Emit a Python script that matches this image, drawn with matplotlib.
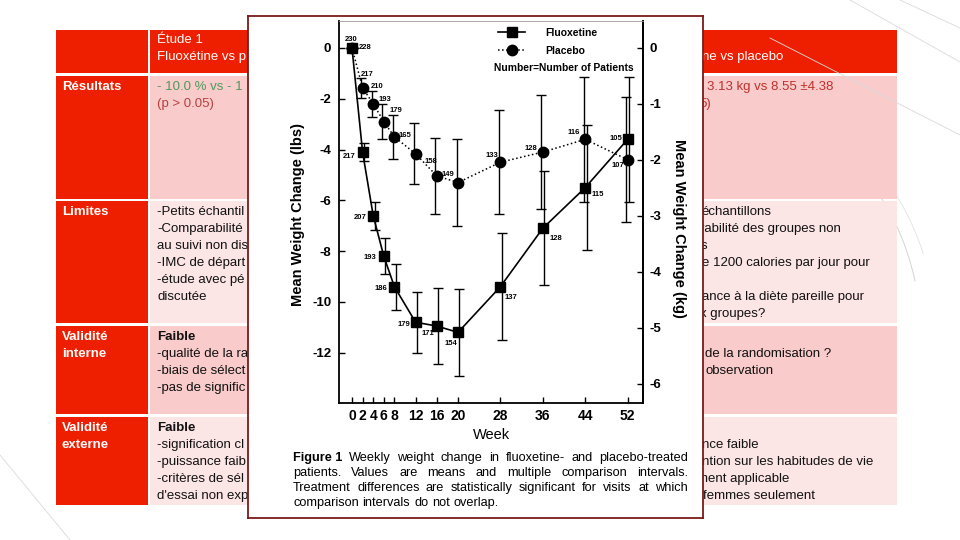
import matplotlib
matplotlib.use('Agg')
import matplotlib.pyplot as plt
from matplotlib.lines import Line2D
from matplotlib.patches import Rectangle, Arc

plt.rcParams['font.family'] = ['Liberation Sans', 'DejaVu Sans']
plt.rcParams['axes.unicode_minus'] = False

# ---- data (lbs) ----
weeks = [0, 2, 4, 6, 8, 12, 16, 20, 28, 36, 44, 52]
fluox_mean = [0, -4.1, -6.6, -8.2, -9.4, -10.8, -10.95, -11.2, -9.4, -7.1, -5.5, -3.6]
fluox_ci = [0, 0.35, 0.55, 0.7, 0.9, 1.2, 1.5, 1.7, 2.1, 2.25, 2.45, 2.45]
fluox_n = [230, 217, 207, 193, 186, 179, 171, 154, 137, 128, 115, 105]
placebo_mean = [0, -1.57, -2.2, -2.9, -3.5, -4.17, -5.04, -5.3, -4.5, -4.1, -3.6, -4.4]
placebo_ci = [0, 0.4, 0.5, 0.7, 0.87, 1.2, 1.48, 1.7, 2.05, 2.25, 2.45, 2.45]
placebo_n = [228, 217, 210, 193, 179, 165, 158, 149, 133, 128, 116, 107]
lbs_ticks = [0, -2, -4, -6, -8, -10, -12]
kg_ticks = [0, -1, -2, -3, -4, -5, -6]
LBS_PER_KG = 2.2046

# ---- table text (only what is visible around the pasted figure) ----
row_labels = ['Résultats', 'Limites', 'Validité\ninterne', 'Validité\nexterne']
header_left = ['Étude 1', 'Fluoxétine vs p']
left_rows = [
    ['- 10.0 % vs - 1', '(p > 0.05)'],
    ['-Petits échantil', '-Comparabilité', 'au suivi non dis', '-IMC de départ',
     '-étude avec pé', 'discutée'],
    ['Faible', '-qualité de la ra', '-biais de sélect', '-pas de signific'],
    ['Faible', '-signification cl', '-puissance faib', '-critères de sél', "d'essai non exp"],
]
header_right = ['', 'ne vs placebo']
right_rows = [
    ['3.13 kg vs 8.55 ±4.38', '5)'],
    ['échantillons', 'rabilité des groupes non', 's', 'e 1200 calories par jour pour', '',
     'ance à la diète pareille pour', 'x groupes?'],
    ['', 'de la randomisation ?', 'observation'],
    ['', 'nce faible', 'ntion sur les habitudes de vie', 'ment applicable', 'femmes seulement'],
]
caption = [
    'Weekly weight change in fluoxetine- and placebo-treated',
    'patients. Values are means and multiple comparison intervals.',
    'Treatment differences are statistically significant for visits at which',
    'comparison intervals do not overlap.',
]

# ---- layout / style ----
RED = '#EE1F00'
PINK_D = '#F9CBCB'
PINK_L = '#FCE5E5'
rows_y = [(30, 73), (76, 199), (201, 323), (326, 414), (417, 505)]
row_fill = [PINK_D, PINK_L, PINK_D, PINK_L]
LEFT_X, C1_X, C2_X, RIGHT_X = 56, 150, 651, 897
STEP = 17
FS = 9.5
right_x = [[707, 699], [701, 700, 701, 702, 702, 702, 700], [705, 705, 705],
           [702, 702, 702, 697, 703]]

fig = plt.figure(figsize=(9.6, 5.4), dpi=100)

bg = fig.add_axes([0, 0, 1, 1])
bg.set_xlim(0, 960)
bg.set_ylim(540, 0)
bg.axis('off')
bg.set_zorder(0)

# faint decorative strokes of the slide template
for (xa, ya, xb, yb) in [(770, 38, 960, 135), (850, 0, 960, 62), (900, 0, 960, 28), (0, 455, 70, 540)]:
    bg.plot([xa, xb], [ya, yb], color='#d9d9d9', lw=0.6)
bg.add_patch(Arc((640, 330), 560, 520, theta1=-65, theta2=-10, color='#d4d4d4', lw=0.7))
bg.add_patch(Arc((640, 330), 590, 545, theta1=-60, theta2=-15, color='#e2e2e2', lw=0.6))

# table cells
for i, (y0, y1) in enumerate(rows_y):
    bg.add_patch(Rectangle((LEFT_X, y0), C1_X - 2 - LEFT_X, y1 - y0, color=RED, lw=0))
    fill = RED if i == 0 else row_fill[i - 1]
    bg.add_patch(Rectangle((C1_X, y0), C2_X - 2 - C1_X, y1 - y0, color=fill, lw=0))
    bg.add_patch(Rectangle((C2_X, y0), RIGHT_X - C2_X, y1 - y0, color=fill, lw=0))


def cell_lines(x, ytop, lines, color='#111111', bold_first=False, colors=None):
    xs = x if isinstance(x, list) else [x] * len(lines)
    for k, s in enumerate(lines):
        if not s:
            continue
        c = colors[k] if colors else color
        w = 'bold' if (bold_first and k == 0) else 'normal'
        bg.text(xs[k], ytop + 11 + k * STEP, s, fontsize=FS, color=c, fontweight=w,
                ha='left', va='center')


cell_lines(C1_X + 7, rows_y[0][0] - 1, header_left, color='white')
cell_lines([702, 702], rows_y[0][0] - 1, header_right, color='white')
for i, lab in enumerate(row_labels):
    lines = lab.split('\n')
    for k, s in enumerate(lines):
        bg.text(LEFT_X + 6, rows_y[i + 1][0] + 11 + k * STEP, s, fontsize=FS, color='white',
                fontweight='bold', ha='left', va='center')

cell_lines(C1_X + 7, rows_y[1][0], left_rows[0], colors=['#4E9A5E', '#B5423E'])
cell_lines(right_x[0], rows_y[1][0], right_rows[0], color='#C0302C')
for i in (1, 2, 3):
    cell_lines(C1_X + 7, rows_y[i + 1][0], left_rows[i], bold_first=(i >= 2))
    cell_lines(right_x[i], rows_y[i + 1][0], right_rows[i])

# ---- pasted figure frame ----
fr = fig.add_axes([248 / 960, 1 - 518 / 540, 455 / 960, 502 / 540])
fr.set_zorder(2)
fr.set_xlim(248, 703)
fr.set_ylim(518, 16)
fr.set_xticks([])
fr.set_yticks([])
for sp in fr.spines.values():
    sp.set_color('#7A1A1A')
    sp.set_linewidth(1.3)

# ---- the chart ----
ax = fig.add_axes([339 / 960, 1 - 403 / 540, 304 / 960, 382 / 540])
ax.set_zorder(3)
ax.set_xlim(-2.45, 54.9)
ax.set_ylim(-13.98, 1.06)

pl_x = [w - 0.25 for w in weeks]
fl_x = [w + 0.25 for w in weeks]
ax.errorbar(pl_x, placebo_mean, yerr=placebo_ci, fmt='none', ecolor='black', elinewidth=1,
            capsize=3.5, capthick=1, zorder=2)
ax.errorbar(fl_x, fluox_mean, yerr=fluox_ci, fmt='none', ecolor='black', elinewidth=1,
            capsize=3.5, capthick=1, zorder=2)
ax.plot(weeks, placebo_mean, color='black', ls=':', lw=1.1, marker='o', ms=7.5, zorder=3)
ax.plot(weeks, fluox_mean, color='black', ls='-', lw=1.2, marker='s', ms=6.5, zorder=4)

fl_off = [(-1, 8), (-13, -4), (-13, -2), (-14, -1), (-13, -2), (-12, -2), (-9, -7), (-7, -11),
          (11, -11), (13, -10), (13, -7), (-12, 1)]
pl_off = [(13, 0), (5, 13), (4, 17), (1, 22), (2, 26), (-11, 18), (-6, 14), (-10, 8),
          (-8, 7), (-12, 4), (-11, 7), (-10, -6)]
for w, m, n, o in zip(weeks, fluox_mean, fluox_n, fl_off):
    ax.annotate(str(n), (w, m), xytext=o, textcoords='offset pixels', fontsize=5.5,
                fontweight='bold', ha='center', va='center', zorder=5)
for w, m, n, o in zip(weeks, placebo_mean, placebo_n, pl_off):
    ax.annotate(str(n), (w, m), xytext=o, textcoords='offset pixels', fontsize=5.5,
                fontweight='bold', ha='center', va='center', zorder=5)

ax.set_xticks(weeks)
ax.set_xticklabels([str(w) for w in weeks], fontsize=10, fontweight='bold')
ax.set_yticks(lbs_ticks)
ax.set_yticklabels([str(v) for v in lbs_ticks], fontsize=9.5, fontweight='bold')
ax.tick_params(axis='both', direction='in', length=4, width=1)
ax.tick_params(axis='y', pad=5.5)
ax.tick_params(axis='x', pad=4)
for s in ('left', 'bottom', 'right'):
    ax.spines[s].set_linewidth(1.3)
ax.spines['top'].set_color('#999999')
ax.spines['top'].set_linewidth(0.6)

sec = ax.secondary_yaxis('right', functions=(lambda v: v / LBS_PER_KG, lambda v: v * LBS_PER_KG))
sec.set_yticks(kg_ticks)
sec.set_yticklabels([str(v) for v in kg_ticks], fontsize=9.5, fontweight='bold')
sec.tick_params(direction='in', length=4, width=1, pad=5)
sec.spines['right'].set_linewidth(1.3)

ax.set_ylabel('Mean Weight Change (lbs)', fontsize=10.5, fontweight='bold')
ax.yaxis.set_label_coords((298 - 339) / 304, (403 - 215) / 382)
ax.yaxis.label.set_va('center')
fr.text(679, 228, 'Mean Weight Change (kg)', fontsize=10.5, fontweight='bold', rotation=-90,
        ha='center', va='center')

fr.text(491, 435, 'Week', fontsize=10.5, ha='center', va='center')

handles = [Line2D([], [], color='black', ls='-', lw=1.2, marker='s', ms=6.5),
           Line2D([], [], color='black', ls=':', lw=1.1, marker='o', ms=7.5)]
ax.legend(handles, ['Fluoxetine', 'Placebo'], loc='upper left',
          bbox_to_anchor=((498 - 339) / 304, (403 - 28) / 382), frameon=False,
          prop={'size': 7.5, 'weight': 'bold'}, handlelength=2.6, handletextpad=1.9,
          borderaxespad=0, borderpad=0, labelspacing=0.75)
ax.text(494, 68, 'Number=Number of Patients', fontsize=7.4, fontweight='bold', ha='left',
        va='center', transform=fr.transData)

# ---- justified caption ----
renderer = fig.canvas.get_renderer()


def caption_line(tokens, y, justify=True, x0=293, x1=688, size=9.2):
    arts = [fr.text(0, y, t, fontsize=size, fontweight=wt, ha='left', va='center')
            for t, wt in tokens]
    widths = [a.get_window_extent(renderer).width for a in arts]
    if justify and len(arts) > 1:
        gap = (x1 - x0 - sum(widths)) / (len(arts) - 1)
    else:
        gap = size * 100 / 72 * 0.3
    x = x0
    for a, w in zip(arts, widths):
        a.set_x(x)
        x += w + gap


cap_y = [458, 473, 488, 503]
for k, line in enumerate(caption):
    toks = [(w, 'normal') for w in line.split()]
    if k == 0:
        toks = [('Figure 1', 'bold')] + toks
    caption_line(toks, cap_y[k], justify=(k < len(caption) - 1))

fig.savefig('out.png', dpi=100)
